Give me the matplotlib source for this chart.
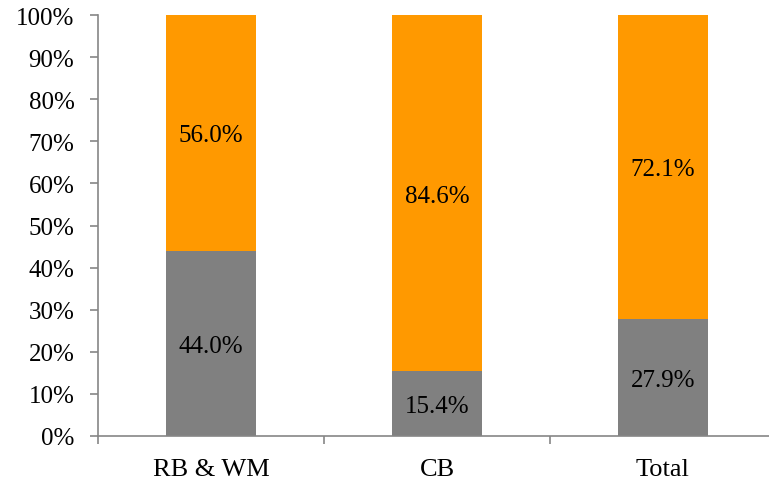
import matplotlib
matplotlib.use("Agg")
import matplotlib.pyplot as plt
from matplotlib.ticker import FixedLocator

categories = ["RB & WM", "CB", "Total"]
gray_vals = [44.0, 15.4, 27.9]
orange_vals = [56.0, 84.6, 72.1]

plt.rcParams['font.family'] = ['Liberation Serif', 'DejaVu Serif']

fig = plt.figure(figsize=(7.69, 4.81), dpi=100)
ax = fig.add_axes([98/769, 44/481, 678/769, 421/481])

x = list(range(len(categories)))
w = 0.40
gc = "#808080"
oc = "#FF9900"
ax.bar(x, gray_vals, width=w, color=gc, zorder=2)
ax.bar(x, orange_vals, width=w, bottom=gray_vals, color=oc, zorder=2)

for xi, g, o in zip(x, gray_vals, orange_vals):
    ax.text(xi, g / 2, f"{g:.1f}%", ha="center", va="center_baseline", fontsize=18, color="black", zorder=3)
    ax.text(xi, g + o / 2, f"{o:.1f}%", ha="center", va="center_baseline", fontsize=18, color="black", zorder=3)

ax.set_xlim(-0.5, 2.5)
ax.set_ylim(0, 100)
ax.set_yticks(range(0, 101, 10))
ax.set_yticklabels([f"{v}%" for v in range(0, 101, 10)], fontsize=18)
ax.set_xticks(x)
ax.set_xticklabels(categories, fontsize=19)
ax.tick_params(axis="x", which="major", length=0, pad=16)
ax.xaxis.set_minor_locator(FixedLocator([-0.5, 0.5, 1.5]))
ax.tick_params(axis="x", which="minor", length=6, color="#868686", width=1.2)
ax.tick_params(axis="y", length=6, color="#868686", width=1.2, pad=11)

for s in ["top", "right"]:
    ax.spines[s].set_visible(False)
for s in ["left", "bottom"]:
    ax.spines[s].set_color("#868686")
    ax.spines[s].set_linewidth(1.2)

fig.savefig("out.png", dpi=100)
